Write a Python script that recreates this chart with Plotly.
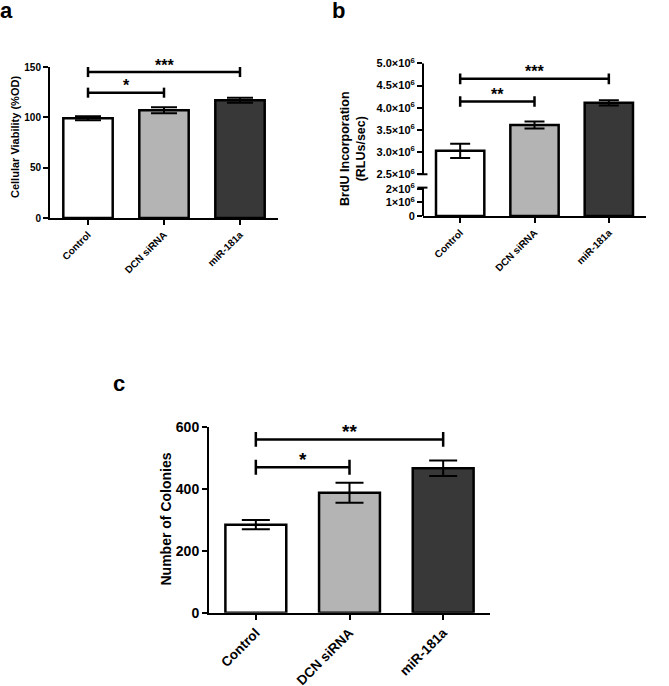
import plotly.graph_objects as go

W, H = 669, 686
categories = ["Control", "DCN siRNA", "miR-181a"]
colors = ["#ffffff", "#b4b4b4", "#383838"]

# Panel a
a_vals = [99, 107, 117]
a_err = [2, 3, 2.5]
a_sig = [(0, 1, 124.5, "*"), (0, 2, 145, "***")]

# Panel b
b_vals = [3.03e6, 3.61e6, 4.11e6]
b_err = [0.16e6, 0.08e6, 0.06e6]
b_sig = [(0, 1, 4.14e6, "**"), (0, 2, 4.65e6, "***")]
b_upper_ticks = [2.5e6, 3.0e6, 3.5e6, 4.0e6, 4.5e6, 5.0e6]
b_upper_text = ["2.5×10<sup>6</sup>", "3.0×10<sup>6</sup>", "3.5×10<sup>6</sup>",
                "4.0×10<sup>6</sup>", "4.5×10<sup>6</sup>", "5.0×10<sup>6</sup>"]
b_lower_ticks = [0, 1e6, 2e6]
b_lower_text = ["0", "1×10<sup>6</sup>", "2×10<sup>6</sup>"]

# Panel c
c_vals = [284, 387, 466]
c_err = [15, 32, 25]
c_sig = [(0, 1, 469, "*"), (0, 2, 559, "**")]

FONT = "Liberation Sans"


def px_x(p):
    return p / W


def px_y(p):
    return 1 - p / H


fig = go.Figure()


def add_bars(xa, ya, vals, err, errw, show_err=True):
    fig.add_trace(go.Bar(
        x=categories, y=vals, xaxis=xa, yaxis=ya, width=0.65,
        marker=dict(color=colors, line=dict(color="black", width=2.5)),
        error_y=dict(type="data", array=err, visible=show_err, color="black",
                     thickness=2, width=errw),
        showlegend=False, hoverinfo="skip"))


def add_sig(xa, ya, sig, cap, fs, offset):
    xs, ys = [], []
    for i0, i1, y, lab in sig:
        c0, c1 = categories[i0], categories[i1]
        xs += [c0, c1, None, c0, c0, None, c1, c1, None]
        ys += [y, y, None, y - cap, y + cap, None, y - cap, y + cap, None]
        fig.add_annotation(x=(i0 + i1) / 2, y=y, xref=xa, yref=ya, text="<b>" + lab + "</b>",
                           showarrow=False, yshift=offset,
                           font=dict(size=fs, color="black", family=FONT))
    fig.add_trace(go.Scatter(x=xs, y=ys, xaxis=xa, yaxis=ya, mode="lines",
                             line=dict(color="black", width=2.5), showlegend=False,
                             hoverinfo="skip", cliponaxis=False))


# a
add_bars("x", "y", a_vals, a_err, 13)
add_sig("x", "y", a_sig, 5, 16, 7)
# b (broken axis: upper and lower)
add_bars("x2", "y2", b_vals, b_err, 10)
add_bars("x3", "y3", b_vals, b_err, 10, show_err=False)
add_sig("x2", "y2", b_sig, 0.12e6, 16, 7)
# c
add_bars("x4", "y4", c_vals, c_err, 14)
add_sig("x4", "y4", c_sig, 24, 19, 8)

tickfont_a = dict(family=FONT, size=10, color="black", weight="bold")
tickfont_b = dict(family=FONT, size=11, color="black", weight="bold")
tickfont_c = dict(family=FONT, size=13.5, color="black", weight="bold")

common_x = dict(type="category", range=[-0.5, 2.5], showline=True, linecolor="black", linewidth=2,
                ticks="outside", ticklen=5, tickwidth=2, tickcolor="black", tickangle=-45,
                showgrid=False, zeroline=False, automargin=False)
common_y = dict(showline=True, linecolor="black", linewidth=2, ticks="outside", ticklen=5,
                tickwidth=2, tickcolor="black", showgrid=False, zeroline=False, automargin=False)

split = px_y(181)

fig.update_layout(
    width=W, height=H, margin=dict(l=0, r=0, t=0, b=0, autoexpand=False),
    paper_bgcolor="white", plot_bgcolor="white",
    font=dict(family=FONT, color="black"),
    xaxis=dict(common_x, domain=[px_x(50), px_x(278)], anchor="y", tickfont=tickfont_a),
    yaxis=dict(common_y, domain=[px_y(218), px_y(67)], anchor="x", range=[0, 150],
               tickvals=[0, 50, 100, 150], tickfont=tickfont_a),
    xaxis2=dict(common_x, domain=[px_x(423), px_x(646)], anchor="y2", showticklabels=False,
                showline=False, ticks=""),
    yaxis2=dict(common_y, domain=[split, px_y(63.3)], anchor="x2", range=[2.35e6, 5.0e6],
                showline=False, tickvals=b_upper_ticks, ticktext=b_upper_text, tickfont=tickfont_b),
    xaxis3=dict(common_x, domain=[px_x(423), px_x(646)], anchor="y3", matches="x2", tickfont=tickfont_a),
    yaxis3=dict(common_y, domain=[px_y(216), split], anchor="x3", range=[0, 2.59e6],
                showline=False, tickvals=b_lower_ticks, ticktext=b_lower_text, tickfont=tickfont_b),
    xaxis4=dict(common_x, domain=[px_x(209), px_x(490)], anchor="y4", tickfont=tickfont_c),
    yaxis4=dict(common_y, domain=[px_y(612.7), px_y(426.7)], anchor="x4", range=[0, 600],
                tickvals=[0, 200, 400, 600], tickfont=dict(tickfont_c, size=14)),
)

# broken axis line segments for panel b
fig.add_shape(type="line", xref="x3 domain", yref="y3", x0=0, x1=0, y0=0, y1=2.1e6,
              line=dict(color="black", width=2))
fig.add_shape(type="line", xref="x3 domain", yref="y3", x0=-0.025, x1=0.02, y0=2.1e6, y1=2.1e6,
              line=dict(color="black", width=2))
fig.add_shape(type="line", xref="x2 domain", yref="y2", x0=0, x1=0, y0=2.5e6, y1=5.0e6,
              line=dict(color="black", width=2))
fig.add_shape(type="line", xref="x2 domain", yref="y2", x0=-0.025, x1=0.02, y0=2.5e6, y1=2.5e6,
              line=dict(color="black", width=2))

# axis titles
titles = [("Cellular Viability (%OD)", 15, 137, 11),
          ("BrdU Incorporation<br>(RLUs/sec)", 353, 149, 12.5),
          ("Number of Colonies", 165, 519.5, 14)]
for txt, x, y, fs in titles:
    fig.add_annotation(x=px_x(x), y=px_y(y), xref="paper", yref="paper", text="<b>" + txt + "</b>",
                       showarrow=False, textangle=-90, xanchor="center", yanchor="middle",
                       font=dict(family=FONT, size=fs, color="black"))

# panel letters
for lab, x, y in [("a", 6, 10), ("b", 338, 10), ("c", 119, 383)]:
    fig.add_annotation(x=px_x(x), y=px_y(y), xref="paper", yref="paper", text="<b>" + lab + "</b>",
                       showarrow=False, xanchor="center", yanchor="middle",
                       font=dict(family=FONT, size=22, color="black"))

fig.write_html("out.html", config={"displayModeBar": False},
               post_script="document.body.style.margin='0';")
